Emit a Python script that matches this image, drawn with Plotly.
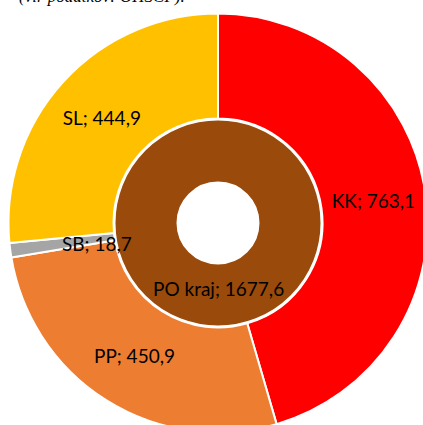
import plotly.graph_objects as go

# ---- data ----
categories = ["KK", "PP", "SB", "SL"]
values = [763.1, 450.9, 18.7, 444.9]
inner_label = ["PO kraj"]
inner_value = [1677.6]
caption = "(vir podatkov: OHSCP)."

colors = ["#FF0000", "#ED7D31", "#A5A5A5", "#FFC000"]
inner_color = ["#9A4A0A"]

W, H = 440, 440          # figure larger than window; right/bottom get cropped
CX, CY = 218, 223        # pixel centre of rings
R_OUT, R_MID, R_HOLE = 209.5, 103.5, 40.5
FONT = "Lato"
FS = 19


def dom(r):
    return dict(x=[(CX - r) / W, (CX + r) / W],
                y=[(H - (CY + r)) / H, (H - (CY - r)) / H])


def px(x, y):
    return x / W, (H - y) / H


fig = go.Figure()
fig.add_trace(go.Pie(
    labels=categories, values=values, sort=False, direction="clockwise",
    rotation=0, hole=(R_MID + 1) / R_OUT, domain=dom(R_OUT),
    marker=dict(colors=colors, line=dict(color="white", width=2)),
    texttemplate="%{label}; %{value:.1f}",
    textposition=["inside", "inside", "none", "inside"],
    insidetextorientation="horizontal",
    insidetextfont=dict(family=FONT, size=FS, color="black"),
    showlegend=False, hoverinfo="label+value",
))
fig.add_trace(go.Pie(
    labels=inner_label, values=inner_value, sort=False, direction="clockwise",
    hole=R_HOLE / R_MID, domain=dom(R_MID),
    marker=dict(colors=inner_color, line=dict(color="white", width=2)),
    textinfo="none", showlegend=False, hoverinfo="label+value",
))

annots = []
x, y = px(60, 243)
annots.append(dict(x=x, y=y, xref="paper", yref="paper", showarrow=False,
                   text=f"{categories[2]}; {values[2]:.1f}".replace(".", ","),
                   font=dict(family=FONT, size=FS, color="black")))
x, y = px(218, 288)
annots.append(dict(x=x, y=y, xref="paper", yref="paper", showarrow=False,
                   text=f"{inner_label[0]}; {inner_value[0]:.1f}".replace(".", ","),
                   font=dict(family=FONT, size=FS, color="black")))
x, y = px(187, 8)
annots.append(dict(x=x, y=y, xref="paper", yref="paper", showarrow=False,
                   xanchor="right", yanchor="bottom", text=caption,
                   font=dict(family="Liberation Serif", size=17, color="black",
                             style="italic")))

fig.update_layout(
    width=W, height=H, margin=dict(l=0, r=0, t=0, b=0),
    paper_bgcolor="white", plot_bgcolor="white",
    separators=", ", annotations=annots,
)

fig.write_html(
    "out.html",
    config={"displayModeBar": False},
    post_script="document.body.style.margin='0';"
                "document.body.style.overflow='hidden';"
                "document.documentElement.style.overflow='hidden';",
)
